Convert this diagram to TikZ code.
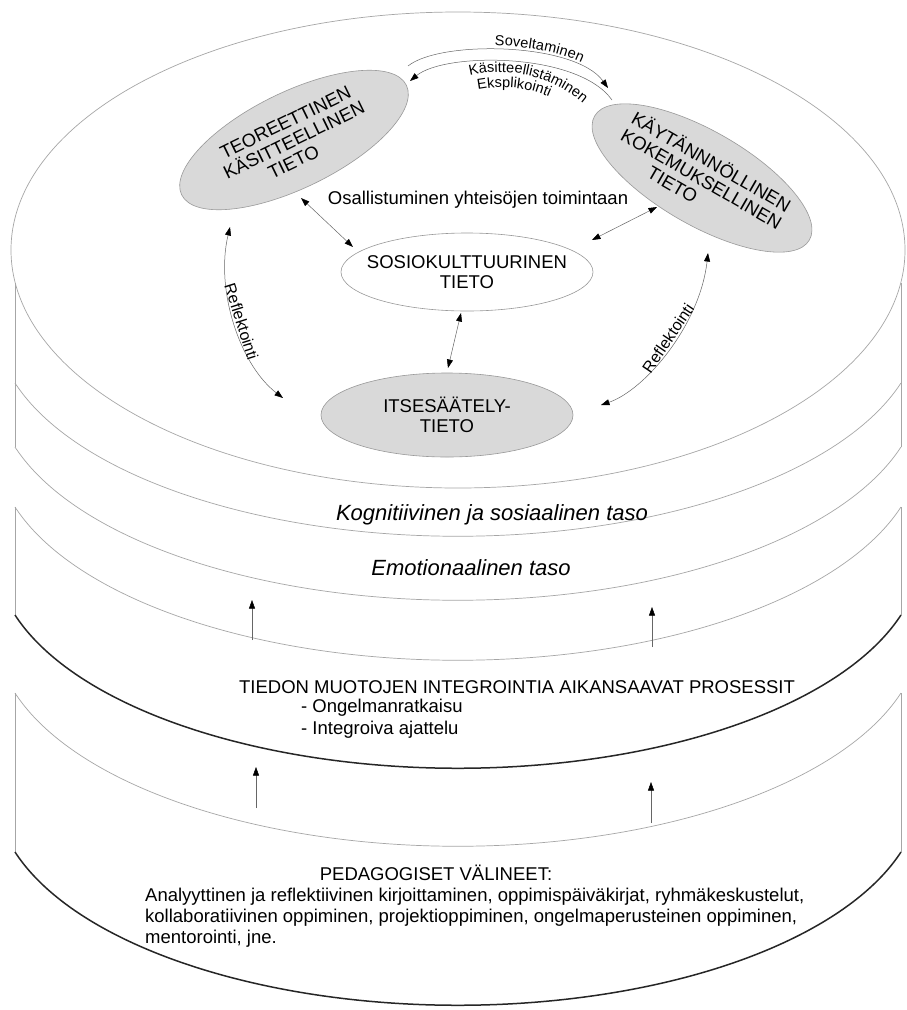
\documentclass[tikz,border=0pt]{standalone}
\usepackage{fontspec}
\setmainfont{Liberation Sans}
\usetikzlibrary{shapes.geometric,arrows.meta,calc,decorations.text}

\begin{document}
\begin{tikzpicture}[x=1pt,y=-1pt,
  layer/.style={draw=black!35, line width=0.7pt},
  base/.style={draw=black!85, line width=1.5pt},
  conn/.style={draw=black!60, line width=0.5pt},
  >={Triangle[length=8.5pt,width=6pt,color=black]},
  know/.style={ellipse, draw=black!40, line width=0.6pt, fill=black!15,
    inner xsep=-12pt, inner ysep=0pt, align=center,
    font=\fontsize{18.5}{19.5}\selectfont},
  lbl/.style={font=\fontsize{18.5}{21}\selectfont, inner sep=0pt},
  lvl/.style={font=\fontsize{22}{24}\selectfont\itshape, inner sep=0pt},
  rfl/.style={font=\fontsize{16}{16}\selectfont, inner sep=1pt, sloped, above},
]
\fill[white] (0,0) rectangle (907,1010);
\useasboundingbox (0,0) rectangle (907,1010);

% top surface of the stack
\draw[layer] (458,250) ellipse[x radius=447, y radius=238];

% side walls of the three discs
\foreach \a/\b in {283/447, 507/615, 693/852} {
  \draw[layer] (15,\a) -- (15,\b);
  \draw[layer] (901,\a) -- (901,\b);
}

% level boundaries
\foreach \y in {383,447,507,693}
  \draw[layer] (15,\y) arc[start angle=163.1, end angle=16.9, x radius=463, y radius=216];
\foreach \y in {615,852}
  \draw[base] (15,\y) arc[start angle=163.1, end angle=16.9, x radius=463, y radius=216];

% forms of knowledge
\node[know, rotate=26, minimum width=250pt, minimum height=96pt] (teo) at (294,140)
  {TEOREETTINEN\\KÄSITTEELLINEN\\TIETO\hspace*{20pt}};
\node[know, rotate=-30, minimum width=248pt, minimum height=94pt] (kay) at (702,178)
  {KÄYTÄNNNÖLLINEN\\KOKEMUKSELLINEN\\TIETO\hspace*{44pt}};
\node[know, fill=white, minimum width=252pt, minimum height=78pt] (sos) at (467,272)
  {SOSIOKULTTUURINEN\\TIETO};
\node[know, minimum width=252pt, minimum height=84pt] (its) at (447,415)
  {ITSESÄÄTELY-\\TIETO};

\node[lbl] (osa) at (478,200) {Osallistuminen yhteisöjen toimintaan};

% links between the forms of knowledge
\draw[conn,<->] ($(teo)+(7,58)$) -- ($(sos)+(-114,-25)$);
\draw[conn,<->] ($(kay)+(-45,29)$) -- ($(sos)+(125,-32)$);
\draw[conn,<->] ($(sos)+(-6,41)$) -- ($(its)+(1,-47)$);

% reflection arcs
\draw[conn,<->]
  ($(teo)+(-64,87)$) .. controls ($(teo)+(-79,150)$) and ($(its)+(-207,-50)$) .. ($(its)+(-164,-17)$)
  node[rfl, pos=0.5] (rfl1) {Reflektointi};
\draw[conn,<->]
  ($(its)+(154,-10)$) .. controls ($(its)+(198,-25)$) and ($(kay)+(-2,147)$) .. ($(kay)+(6,75)$)
  node[rfl, pos=0.55] (rfl2) {Reflektointi};

% application and conceptualisation
\draw[conn,->, postaction={decorate, decoration={text along path,
    text={|\fontsize{14.5}{15}\selectfont|Soveltaminen}, text align={center, left indent=54pt}, raise=4pt}}]
  ($(teo)+(114,-74)$) .. controls ($(teo)+(146,-100)$) and ($(kay)+(-127,-136)$) .. ($(kay)+(-94,-90)$);
\draw[conn,->]
  ($(kay)+(-90,-78)$) .. controls ($(kay)+(-124,-126)$) and ($(teo)+(151,-88)$) .. ($(teo)+(116,-59)$);
\path[decorate, decoration={text along path,
    text={|\fontsize{14.5}{15}\selectfont|Käsitteellistäminen}}]
  (470,76) .. controls (510,66) and (560,75) .. (598,118);
\path[decorate, decoration={text along path,
    text={|\fontsize{14.5}{15}\selectfont|Eksplikointi}}]
  (478,90) .. controls (510,84) and (540,88) .. (572,110);

% levels
\node[lvl] (kog) at (492,515) {Kognitiivinen ja sosiaalinen taso};
\node[lvl] (emo) at (471,568) {Emotionaalinen taso};

\coordinate (u1a) at (252,640); \coordinate (u1b) at (252,600);
\coordinate (u2a) at (652,647); \coordinate (u2b) at (652,607);
\draw[conn,->] (u1a) -- (u1b);
\draw[conn,->] (u2a) -- (u2b);

\node[lbl] (tie) at (517,687) {TIEDON MUOTOJEN INTEGROINTIA AIKANSAAVAT PROSESSIT};
\node[lbl, anchor=west] (ong) at (301,708) {- Ongelmanratkaisu};
\node[lbl, anchor=west] (int) at (301,730) {- Integroiva ajattelu};

\coordinate (u3a) at (256,808); \coordinate (u3b) at (256,767);
\coordinate (u4a) at (651,823); \coordinate (u4b) at (651,782);
\draw[conn,->] (u3a) -- (u3b);
\draw[conn,->] (u4a) -- (u4b);

\node[lbl] (ped) at (436,873) {PEDAGOGISET VÄLINEET:};
\node[lbl, anchor=north west, align=left] (vaw) at (145,888)
  {Analyyttinen ja reflektiivinen kirjoittaminen, oppimispäiväkirjat, ryhmäkeskustelut,\\
   kollaboratiivinen oppiminen, projektioppiminen, ongelmaperusteinen oppiminen,\\
   mentorointi, jne.};
\end{tikzpicture}
\end{document}
